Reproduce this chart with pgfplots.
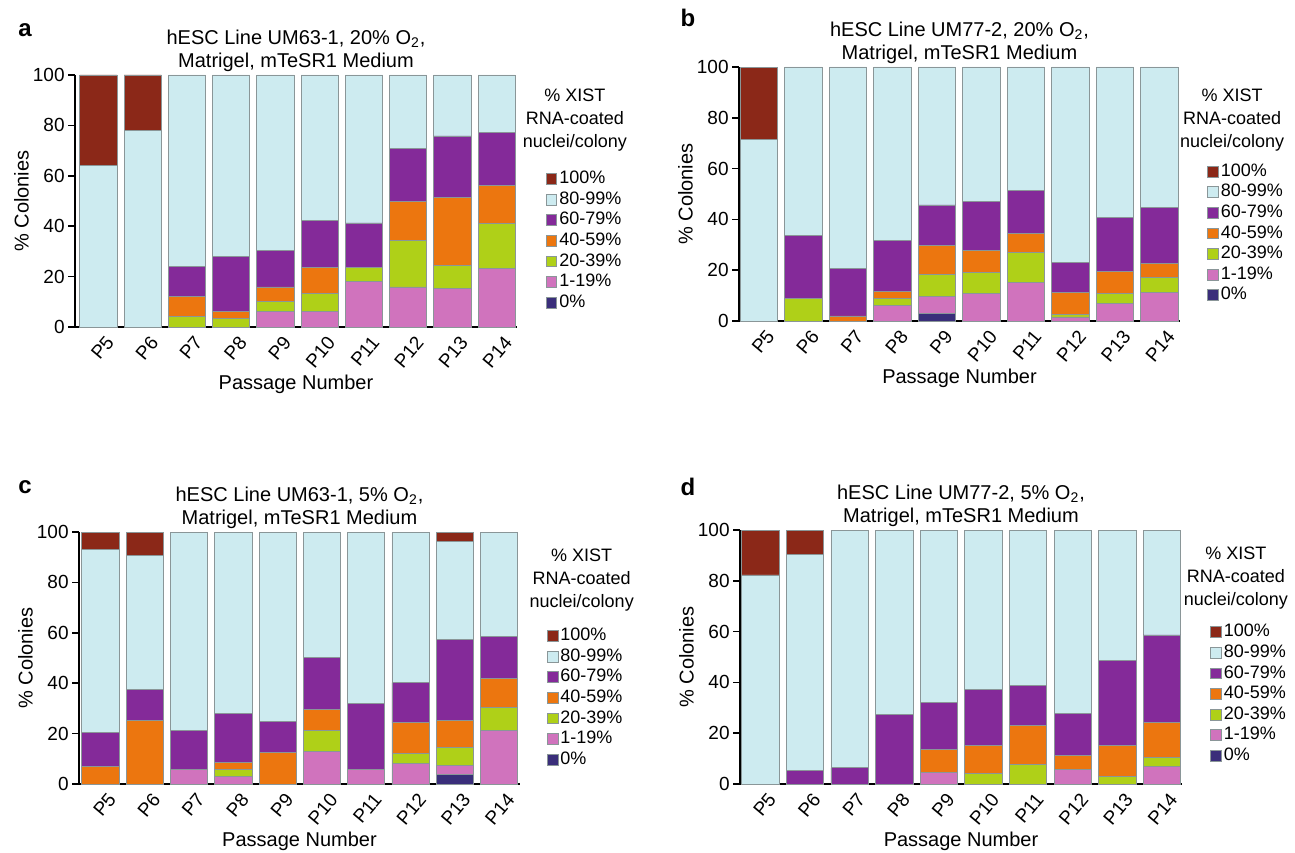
\documentclass[border=0pt]{standalone}
\usepackage{pgfplots}
\pgfplotsset{compat=1.18}
\usepackage{pgfplotstable}
\usepackage{fontspec}
\setmainfont{Liberation Sans}

\definecolor{c100}{HTML}{8B2818}
\definecolor{c80}{HTML}{CDEBF0}
\definecolor{c60}{HTML}{842A99}
\definecolor{c40}{HTML}{EC760F}
\definecolor{c20}{HTML}{AFD018}
\definecolor{c1}{HTML}{D073BD}
\definecolor{c0}{HTML}{3A2E7A}
\definecolor{barline}{HTML}{8A9698}

\pgfplotstableread{
x n0 n1 n20 n40 n60 n80 n100
0 0 0 0 0 0 64 36
1 0 0 0 0 0 78 22
2 0 0 4.2 8 12 75.8 0
3 0 0 3.3 2.7 22.1 71.9 0
4 0 6 4.3 5.6 14.3 69.8 0
5 0 6 7.2 10.4 18.8 57.6 0
6 0 18 5.6 0 17.7 58.7 0
7 0 15.9 18.4 15.6 21.1 29 0
8 0 15.4 9 27.1 24.3 24.2 0
9 0 23.3 17.8 15.2 20.8 22.9 0
}\tabA

\pgfplotstableread{
x n0 n1 n20 n40 n60 n80 n100
0 0 0 0 0 0 71.6 28.4
1 0 0 8.7 0 24.9 66.4 0
2 0 0 0 2 18.8 79.2 0
3 0 6.2 2.7 2.9 20 68.2 0
4 2.8 6.7 9 11.2 16 54.3 0
5 0 10.8 8.4 8.7 19 53.1 0
6 0 15 12.1 7.2 17.2 48.5 0
7 0 1.6 1 8.6 11.8 77 0
8 0 6.8 4.2 8.4 21.3 59.3 0
9 0 11.3 5.8 5.4 22.3 55.2 0
}\tabB

\pgfplotstableread{
x n0 n1 n20 n40 n60 n80 n100
0 0 0 0 6.9 13.4 72.8 6.9
1 0 0 0 25.2 12.4 53 9.4
2 0 5.8 0 0 15.6 78.6 0
3 0 3 2.8 2.8 19.5 71.9 0
4 0 0 0 12.4 12.3 75.3 0
5 0 12.9 8.4 8.2 20.7 49.8 0
6 0 5.8 0 0 26.2 68 0
7 0 8.3 3.9 12.1 15.9 59.8 0
8 3.8 3.5 7.1 10.8 32.1 38.9 3.8
9 0 21.3 9.1 11.6 16.4 41.6 0
}\tabC

\pgfplotstableread{
x n0 n1 n20 n40 n60 n80 n100
0 0 0 0 0 0 82.3 17.7
1 0 0 0 0 5.2 85 9.8
2 0 0 0 0 6.4 93.6 0
3 0 0 0 0 27.4 72.6 0
4 0 4.6 0 9 18.4 68 0
5 0 0 4.3 10.9 21.9 62.9 0
6 0 0 7.7 15.4 15.6 61.3 0
7 0 5.8 0 5.3 16.8 72.1 0
8 0 0 3.1 12.1 33.4 51.4 0
9 0 6.9 3.6 13.7 34.5 41.3 0
}\tabD

\pgfplotsset{
  cat/.style={fill=#1, draw=barline, line width=0.4pt,
    legend image code/.code={\draw[fill=#1,draw=barline,line width=0.4pt] (0pt,-2.7pt) rectangle (5.4pt,2.7pt);}},
  panel/.style={
    scale only axis, ybar stacked, bar width=0.84,
    ymin=0, ymax=100, ytick={0,20,...,100},
    xtick={0,...,9}, xticklabels={P5,P6,P7,P8,P9,P10,P11,P12,P13,P14},
    axis x line*=bottom, axis y line*=left,
    axis line style={line width=1pt, -},
    tick align=outside, major tick length=3.5pt,
    ytick style={line width=0.8pt, black},
    xtick style={draw=none},
    /pgf/number format/assume math mode=true,
    x tick label style={rotate=50, anchor=north east, font=\fontsize{9.5}{11}\selectfont, inner sep=1pt, xshift=3pt, yshift=-1.5pt},
    y tick label style={font=\fontsize{9.5}{11}\selectfont, inner sep=1.5pt},
    xlabel={Passage Number}, ylabel={\% Colonies},
    xlabel style={font=\fontsize{10}{12}\selectfont, yshift=2pt},
    ylabel style={font=\fontsize{10}{12}\selectfont},
    ylabel shift=-3pt,
    title style={align=center, font=\fontsize{10}{11.5}\selectfont, yshift=-8pt},
    clip=false,
    reverse legend,
    legend style={draw=none, fill=none, inner sep=0pt, anchor=north west,
      font=\fontsize{9}{10}\selectfont, legend cell align=left, row sep=0pt,
      nodes={inner sep=1pt, text height=6.5pt, text depth=1.8pt}},
  }
}

\newcommand{\bars}[1]{%
  \addplot[cat=c0] table[x=x,y=n0]{#1}; \addlegendentry{0\%}
  \addplot[cat=c1] table[x=x,y=n1]{#1}; \addlegendentry{1-19\%}
  \addplot[cat=c20] table[x=x,y=n20]{#1}; \addlegendentry{20-39\%}
  \addplot[cat=c40] table[x=x,y=n40]{#1}; \addlegendentry{40-59\%}
  \addplot[cat=c60] table[x=x,y=n60]{#1}; \addlegendentry{60-79\%}
  \addplot[cat=c80] table[x=x,y=n80]{#1}; \addlegendentry{80-99\%}
  \addplot[cat=c100] table[x=x,y=n100]{#1}; \addlegendentry{100\%}
}
\newcommand{\legtitle}{\% XIST\\RNA-coated\\nuclei/colony}

\begin{document}
\begin{tikzpicture}
\useasboundingbox (0,0) rectangle (647.5pt,426pt);

% panel a
\begin{axis}[panel, at={(37.5pt,262.5pt)}, width=221pt, height=126pt,
  xmin=-0.53, xmax=9.46,
  title={hESC Line UM63-1, 20\% O\textsubscript{2},\\Matrigel, mTeSR1 Medium},
  legend style={at={(1.064,0.63)}}]
\bars{\tabA}
\node[align=center, font=\fontsize{9}{11.5}\selectfont] at (rel axis cs:1.131,0.82) {\legtitle};
\end{axis}

% panel b
\begin{axis}[panel, at={(369.5pt,265.5pt)}, width=220.5pt, height=127pt,
  xmin=-0.45, xmax=9.46,
  title={hESC Line UM77-2, 20\% O\textsubscript{2},\\Matrigel, mTeSR1 Medium},
  legend style={at={(1.061,0.63)}}]
\bars{\tabB}
\node[align=center, font=\fontsize{9}{11.5}\selectfont] at (rel axis cs:1.118,0.79) {\legtitle};
\end{axis}

% panel c
\begin{axis}[panel, at={(39.5pt,34pt)}, width=220.5pt, height=126pt,
  xmin=-0.485, xmax=9.47,
  title={hESC Line UM63-1, 5\% O\textsubscript{2},\\Matrigel, mTeSR1 Medium},
  legend style={at={(1.06,0.63)}}]
\bars{\tabC}
\node[align=center, font=\fontsize{9}{11.5}\selectfont] at (rel axis cs:1.14,0.81) {\legtitle};
\end{axis}

% panel d
\begin{axis}[panel, at={(370pt,34pt)}, width=221pt, height=127pt,
  xmin=-0.46, xmax=9.45,
  title={hESC Line UM77-2, 5\% O\textsubscript{2},\\Matrigel, mTeSR1 Medium},
  legend style={at={(1.063,0.64)}}]
\bars{\tabD}
\node[align=center, font=\fontsize{9}{11.5}\selectfont] at (rel axis cs:1.122,0.81) {\legtitle};
\end{axis}

\node[font=\fontsize{12}{14}\selectfont\bfseries] at (12.5pt,411pt) {a};
\node[font=\fontsize{12}{14}\selectfont\bfseries] at (344pt,417pt) {b};
\node[font=\fontsize{12}{14}\selectfont\bfseries] at (12.5pt,182.5pt) {c};
\node[font=\fontsize{12}{14}\selectfont\bfseries] at (344pt,182.5pt) {d};
\end{tikzpicture}
\end{document}
